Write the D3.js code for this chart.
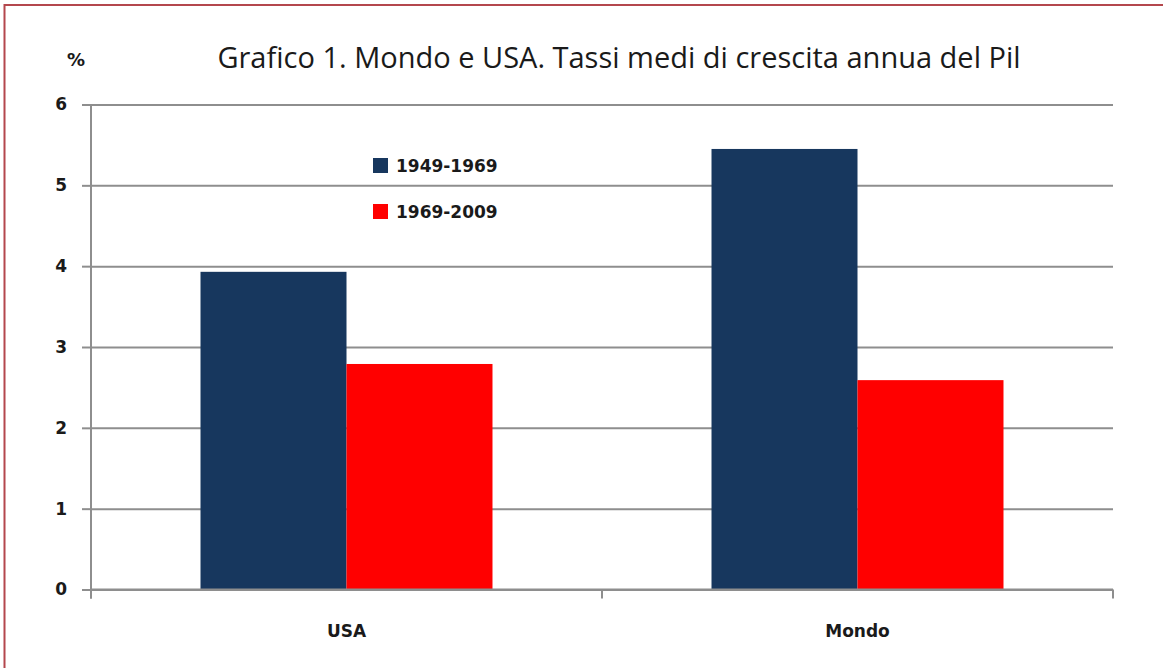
<!DOCTYPE html>
<html lang="it">
<head>
  <meta charset="UTF-8">
  <title>Grafico 1. Mondo e USA</title>
  <script src="https://d3js.org/d3.v7.min.js"></script>
  <style>
    body { margin: 0; background: #fff; }
    svg { display: block; }
  </style>
</head>
<body>
  <svg id="chart" width="1163" height="668"></svg>
  <script>
    // Data
    const categories = ['USA', 'Mondo'];
    const seriesNames = ['1949-1969', '1969-2009'];
    const values1949 = [3.93, 5.45];
    const values1969 = [2.79, 2.59];
    const yTicks = [0, 1, 2, 3, 4, 5, 6];
    const colors = ['#17375e', '#ff0000'];

    const rows = categories.map((c, i) => ({ cat: c, vals: [values1949[i], values1969[i]] }));

    const svg = d3.select('#chart');
    const plotLeft = 91, plotRight = 1113, plotTop = 104.5, plotBottom = 589.5;

    // frame
    svg.append('rect')
      .attr('x', 4.5).attr('y', 5)
      .attr('width', 1200).attr('height', 700)
      .attr('fill', 'none')
      .attr('stroke', '#b4474d')
      .attr('stroke-width', 2);

    const y = d3.scaleLinear().domain([0, 6]).range([plotBottom, plotTop]);
    const x0 = d3.scaleBand().domain(categories).range([plotLeft, plotRight])
      .paddingInner(0.4286).paddingOuter(0.2143);
    const x1 = d3.scaleBand().domain(seriesNames).range([0, x0.bandwidth()]);

    // gridlines
    svg.append('g')
      .attr('transform', `translate(${plotLeft},0)`)
      .call(d3.axisLeft(y).tickValues(yTicks).tickSize(-(plotRight - plotLeft)).tickFormat(''))
      .call(g => g.select('.domain').remove())
      .call(g => g.selectAll('line').attr('stroke', '#8e8e8e').attr('stroke-width', 2));

    // bars
    svg.append('g').selectAll('g')
      .data(rows)
      .join('g')
      .attr('transform', d => `translate(${x0(d.cat)},0)`)
      .selectAll('rect')
      .data(d => d.vals.map((v, i) => ({ key: seriesNames[i], v, i })))
      .join('rect')
      .attr('x', d => x1(d.key))
      .attr('width', x1.bandwidth())
      .attr('y', d => y(d.v))
      .attr('height', d => y(0) - y(d.v))
      .attr('fill', d => colors[d.i]);

    // y axis
    const yAxis = svg.append('g')
      .attr('transform', `translate(${plotLeft},0)`)
      .call(d3.axisLeft(y).tickValues(yTicks).tickFormat(d3.format('d'))
        .tickSize(9).tickSizeOuter(0).tickPadding(15));
    yAxis.select('.domain').attr('stroke', '#8e8e8e').attr('stroke-width', 2)
      .attr('d', `M0,${plotTop}V${plotBottom + 9}`);
    yAxis.selectAll('line').attr('stroke', '#8e8e8e').attr('stroke-width', 2);
    yAxis.selectAll('text')
      .attr('fill', '#1a1a1a')
      .style('font-family', '"DejaVu Sans", sans-serif')
      .style('font-weight', 'bold')
      .style('font-size', '17px');

    // x axis: line, ticks between categories, labels centered
    const xg = svg.append('g');
    xg.append('line')
      .attr('x1', plotLeft).attr('x2', plotRight)
      .attr('y1', y(0)).attr('y2', y(0))
      .attr('stroke', '#8e8e8e').attr('stroke-width', 2);
    const bounds = d3.range(categories.length + 1).map(i => plotLeft + i * x0.step());
    xg.selectAll('line.tick')
      .data(bounds)
      .join('line')
      .attr('class', 'tick')
      .attr('x1', d => d).attr('x2', d => d)
      .attr('y1', y(0)).attr('y2', y(0) + 9)
      .attr('stroke', '#8e8e8e').attr('stroke-width', 2);
    xg.selectAll('text')
      .data(categories)
      .join('text')
      .attr('x', d => x0(d) + x0.bandwidth() / 2)
      .attr('y', 637)
      .attr('text-anchor', 'middle')
      .attr('fill', '#1a1a1a')
      .style('font-family', '"DejaVu Sans", sans-serif')
      .style('font-weight', 'bold')
      .style('font-size', '17px')
      .text(d => d);

    // title
    svg.append('text')
      .attr('x', 619).attr('y', 68)
      .attr('text-anchor', 'middle')
      .attr('fill', '#1a1a1a')
      .style('font-family', '"Open Sans", sans-serif')
      .style('font-size', '29px')
      .text('Grafico 1. Mondo e USA. Tassi medi di crescita annua del Pil');

    // % label
    svg.append('text')
      .attr('x', 76).attr('y', 66)
      .attr('text-anchor', 'middle')
      .attr('fill', '#1a1a1a')
      .style('font-family', '"DejaVu Sans", sans-serif')
      .style('font-weight', 'bold')
      .style('font-size', '18px')
      .text('%');

    // legend
    const legend = svg.append('g').attr('transform', 'translate(373,158)');
    const items = legend.selectAll('g')
      .data(seriesNames)
      .join('g')
      .attr('transform', (d, i) => `translate(0,${i * 46})`);
    items.append('rect')
      .attr('width', 15).attr('height', 15)
      .attr('fill', (d, i) => colors[i]);
    items.append('text')
      .attr('x', 23).attr('y', 14)
      .attr('fill', '#1a1a1a')
      .style('font-family', '"DejaVu Sans", sans-serif')
      .style('font-weight', 'bold')
      .style('font-size', '17px')
      .text(d => d);
  </script>
</body>
</html>
